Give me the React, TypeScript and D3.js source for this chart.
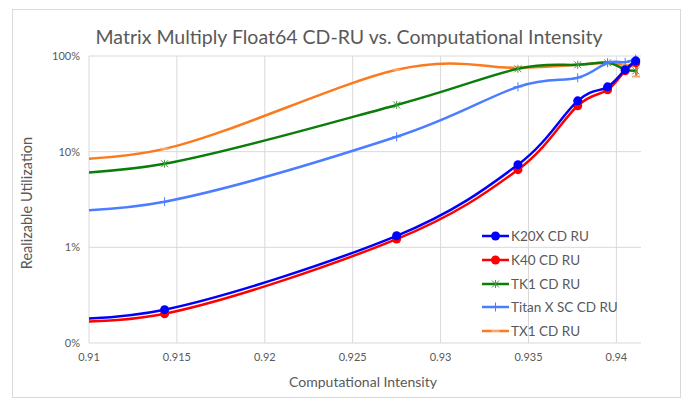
import React from "react";
import * as d3 from "d3";

// shared computational-intensity x values (first one sits left of the axis and is clipped)
const intensity = [0.905, 0.9143, 0.9275, 0.9344, 0.9378, 0.9395, 0.9405, 0.9411];

const k20x = [0.00178, 0.00223, 0.0132, 0.0731, 0.34, 0.476, 0.72, 0.89];
const k40 = [0.00174, 0.00202, 0.0122, 0.0648, 0.302, 0.443, 0.7, 0.85];
const tk1 = [0.056, 0.0748, 0.308, 0.735, 0.809, 0.85, 0.72, 0.7];
const titanX = [0.0232, 0.03, 0.143, 0.476, 0.592, 0.85, 0.86, 0.93];
const tx1 = [0.082, 0.107, 0.718, 0.753, 0.809, 0.85, 0.8, 0.8, 0.61];
const tx1X = [...intensity, 0.94112];

const seriesNames = ["K20X CD RU", "K40 CD RU", "TK1 CD RU", "Titan X SC CD RU", "TX1 CD RU"];
const seriesColors = ["#0000ff", "#ff0000", "#0a7d0a", "#4a7dff", "#fb7a1e"];
const markerKinds = ["circle", "circle", "star", "plus", "dash"];

const xTicks = [0.91, 0.915, 0.92, 0.925, 0.93, 0.935, 0.94];
const xTickLabels = ["0.91", "0.915", "0.92", "0.925", "0.93", "0.935", "0.94"];
const yTicks = [0.001, 0.01, 0.1, 1];
const yTickLabels = ["0%", "1%", "10%", "100%"];

const W = 690;
const H = 402;
const plot = { left: 89, right: 641, top: 56, bottom: 343 };
const textColor = "#595959";
const font = "Lato, 'Open Sans', sans-serif";

function Marker({ kind, x, y, color }: { kind: string; x: number; y: number; color: string }) {
  if (kind === "circle") return <circle cx={x} cy={y} r={4.5} fill={color} />;
  if (kind === "star") {
    const c = "#3f9f3f";
    return (
      <g stroke={c} strokeWidth={1}>
        <line x1={x - 3.5} y1={y - 3.5} x2={x + 3.5} y2={y + 3.5} />
        <line x1={x - 3.5} y1={y + 3.5} x2={x + 3.5} y2={y - 3.5} />
        <line x1={x} y1={y - 4} x2={x} y2={y + 4} />
      </g>
    );
  }
  if (kind === "plus") {
    return (
      <g stroke={color} strokeWidth={1}>
        <line x1={x} y1={y - 4.5} x2={x} y2={y + 4.5} />
        <line x1={x - 4.5} y1={y} x2={x + 4.5} y2={y} />
      </g>
    );
  }
  return <line x1={x - 4} y1={y} x2={x + 4} y2={y} stroke="#f8a870" strokeWidth={2} />;
}

export default function App() {
  const x = d3.scaleLinear().domain([0.91, 0.9414]).range([plot.left, plot.right]);
  const y = d3.scaleLog().domain([0.001, 1]).range([plot.bottom, plot.top]);

  const series = [
    { xs: intensity, ys: k20x },
    { xs: intensity, ys: k40 },
    { xs: intensity, ys: tk1 },
    { xs: intensity, ys: titanX },
    { xs: tx1X, ys: tx1 },
  ];

  const line = d3
    .line<[number, number]>()
    .x((d) => x(d[0]))
    .y((d) => y(d[1]))
    .curve(d3.curveCardinal.tension(0));

  // draw order: back to front
  const order = [4, 2, 3, 1, 0];
  const legendY = [236, 260, 284, 307, 331];

  return (
    <svg width={W} height={H} style={{ position: "absolute", left: 0, top: 0 }} fontFamily={font}>
      <rect x={0} y={0} width={W} height={H} fill="#fff" />
      <rect x={12.5} y={9.5} width={668} height={388} fill="none" stroke="#d9d9d9" />
      <text x={349} y={44} textAnchor="middle" fontSize={19.5} fill={textColor}>
        Matrix Multiply Float64 CD-RU vs. Computational Intensity
      </text>

      <defs>
        <clipPath id="plotClip">
          <rect x={plot.left} y={plot.top - 8} width={plot.right - plot.left + 8} height={plot.bottom - plot.top + 8} />
        </clipPath>
      </defs>

      {/* gridlines */}
      {xTicks.map((t) => (
        <line key={t} x1={x(t)} x2={x(t)} y1={plot.top} y2={plot.bottom} stroke="#d9d9d9" />
      ))}
      {yTicks.map((t) => (
        <line key={t} x1={plot.left} x2={plot.right} y1={y(t)} y2={y(t)} stroke="#d9d9d9" />
      ))}

      {/* tick labels */}
      {xTicks.map((t, i) => (
        <text key={t} x={x(t)} y={361} textAnchor="middle" fontSize={11} fill={textColor}>
          {xTickLabels[i]}
        </text>
      ))}
      {yTicks.map((t, i) => (
        <text key={t} x={80} y={y(t) + 4} textAnchor="end" fontSize={11} fill={textColor}>
          {yTickLabels[i]}
        </text>
      ))}

      <text x={363} y={387} textAnchor="middle" fontSize={14} fill={textColor}>
        Computational Intensity
      </text>
      <text transform={`translate(32,203) rotate(-90)`} textAnchor="middle" fontSize={14.5} fill={textColor}>
        Realizable Utilization
      </text>

      <g clipPath="url(#plotClip)">
        {order.map((si) => {
          const s = series[si];
          const pts = s.xs.map((v, i) => [v, s.ys[i]] as [number, number]);
          return (
            <g key={si}>
              <path d={line(pts) || ""} fill="none" stroke={seriesColors[si]} strokeWidth={2.5} />
              {pts
                .filter((p) => p[0] >= 0.91)
                .map((p, i) => (
                  <Marker key={i} kind={markerKinds[si]} x={x(p[0])} y={y(p[1])} color={seriesColors[si]} />
                ))}
            </g>
          );
        })}
      </g>

      {/* legend */}
      {seriesNames.map((n, i) => (
        <g key={n}>
          <line x1={482} x2={509} y1={legendY[i]} y2={legendY[i]} stroke={seriesColors[i]} strokeWidth={2.5} />
          <Marker kind={markerKinds[i]} x={495.5} y={legendY[i]} color={seriesColors[i]} />
          <text x={511} y={legendY[i] + 4.5} fontSize={13.5} fill={textColor}>
            {n}
          </text>
        </g>
      ))}
    </svg>
  );
}
